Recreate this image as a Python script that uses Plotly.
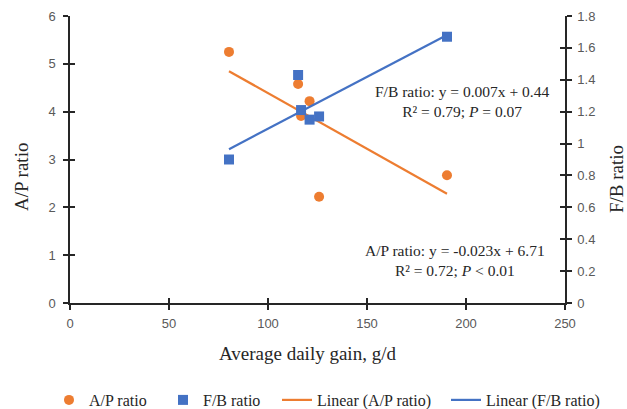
import numpy as np
import plotly.graph_objects as go

# Data
adg = [80.3, 115.2, 116.7, 121.0, 125.8, 190.4]          # Average daily gain, g/d
ap_ratio = [5.25, 4.58, 3.91, 4.22, 2.22, 2.67]          # A/P ratio (left axis)
fb_ratio = [0.90, 1.43, 1.21, 1.15, 1.17, 1.67]          # F/B ratio (right axis)

x_ticks = [0, 50, 100, 150, 200, 250]
y_ticks = [0, 1, 2, 3, 4, 5, 6]
y2_ticks = [0, 0.2, 0.4, 0.6, 0.8, 1, 1.2, 1.4, 1.6, 1.8]
y2_ticktext = ["0", "0.2", "0.4", "0.6", "0.8", "1", "1.2", "1.4", "1.6", "1.8"]

ORANGE = "#ED7D31"
BLUE = "#4472C4"
SERIF = "Liberation Serif, Times New Roman, serif"
SANS = "Liberation Sans, Arial, sans-serif"
DARK = "#262626"

x = np.array(adg)
ap_fit = np.polyfit(x, np.array(ap_ratio), 1)
fb_fit = np.polyfit(x, np.array(fb_ratio), 1)
xl = np.array([x.min(), x.max()])

fig = go.Figure()
fig.add_trace(go.Scatter(x=adg, y=ap_ratio, mode="markers", name="A/P ratio", legend="legend",
                         marker=dict(symbol="circle", size=10, color=ORANGE)))
fig.add_trace(go.Scatter(x=adg, y=fb_ratio, mode="markers", name="F/B ratio", yaxis="y2",
                         legend="legend2", marker=dict(symbol="square", size=10, color=BLUE)))
fig.add_trace(go.Scatter(x=xl, y=np.polyval(ap_fit, xl), mode="lines", name="Linear (A/P ratio)",
                         legend="legend3", line=dict(color=ORANGE, width=2.2)))
fig.add_trace(go.Scatter(x=xl, y=np.polyval(fb_fit, xl), mode="lines", name="Linear (F/B ratio)",
                         yaxis="y2", legend="legend4", line=dict(color=BLUE, width=2.2)))
# invisible helpers so the inside-tick overlay axes render
fig.add_trace(go.Scatter(x=[None], y=[None], xaxis="x2", yaxis="y3", showlegend=False, hoverinfo="skip"))
fig.add_trace(go.Scatter(x=[None], y=[None], xaxis="x2", yaxis="y4", showlegend=False, hoverinfo="skip"))

axis_common = dict(showgrid=False, zeroline=False, showline=True, linecolor=DARK, linewidth=1.5,
                   ticks="outside", ticklen=5, tickwidth=1.5, tickcolor=DARK, automargin=False,
                   tickfont=dict(family=SANS, size=13, color="#595959"))
inside_common = dict(showgrid=False, zeroline=False, showline=False, ticks="inside", ticklen=5,
                     tickwidth=1.5, tickcolor=DARK, showticklabels=False, automargin=False)

L, R, T, B = 70, 62, 16, 106
W, H = 627, 409
pw, ph = W - L - R, H - T - B


def px(xp):
    return (xp - L) / pw


def py(yp):
    return 1 - (yp - T) / ph


title_font = dict(family=SERIF, size=19, color=DARK)
ann_font = dict(family=SERIF, size=15.5, color=DARK)


def leg(left_px):
    return dict(orientation="h", xref="container", yref="container", x=left_px / W, xanchor="left",
                y=(H - 400) / H, yanchor="middle", bgcolor="rgba(0,0,0,0)",
                font=dict(family=SERIF, size=16, color=DARK), itemwidth=30)


fig.update_layout(
    width=W, height=H,
    margin=dict(l=L, r=R, t=T, b=B, autoexpand=False),
    paper_bgcolor="white", plot_bgcolor="white",
    showlegend=True,
    legend=leg(49), legend2=leg(163), legend3=leg(277), legend4=leg(446),
    xaxis=dict(range=[0, 250], tickvals=x_ticks, ticklabelstandoff=3, **axis_common),
    yaxis=dict(range=[0, 6], tickvals=y_ticks, ticklabelstandoff=5, **axis_common),
    yaxis2=dict(range=[0, 1.8], tickvals=y2_ticks, ticktext=y2_ticktext, overlaying="y", side="right",
                ticklabelstandoff=3, **axis_common),
    xaxis2=dict(range=[0, 250], tickvals=x_ticks, overlaying="x", side="bottom", **inside_common),
    yaxis3=dict(range=[0, 6], tickvals=y_ticks, overlaying="y", side="left", **inside_common),
    yaxis4=dict(range=[0, 1.8], tickvals=y2_ticks, overlaying="y", side="right", **inside_common),
    annotations=[
        dict(x=px(307), y=py(353), xref="paper", yref="paper", text="Average daily gain, g/d",
             showarrow=False, xanchor="center", yanchor="middle", font=title_font),
        dict(x=px(21), y=py(177), xref="paper", yref="paper", text="A/P ratio", textangle=-90,
             showarrow=False, xanchor="center", yanchor="middle", font=title_font),
        dict(x=px(616), y=py(179), xref="paper", yref="paper", text="F/B ratio", textangle=-90,
             showarrow=False, xanchor="center", yanchor="middle", font=title_font),
        dict(x=px(462), y=py(101), xref="paper", yref="paper",
             text="F/B ratio: y = 0.007x + 0.44<br>R² = 0.79; <i>P</i> = 0.07",
             showarrow=False, align="center", xanchor="center", yanchor="middle", font=ann_font),
        dict(x=px(455), y=py(260), xref="paper", yref="paper",
             text="A/P ratio: y = -0.023x + 6.71<br>R² = 0.72; <i>P</i> < 0.01",
             showarrow=False, align="center", xanchor="center", yanchor="middle", font=ann_font),
    ],
)

fig.write_html("out.html", config={"displayModeBar": False},
               post_script="document.body.style.margin='0';")
